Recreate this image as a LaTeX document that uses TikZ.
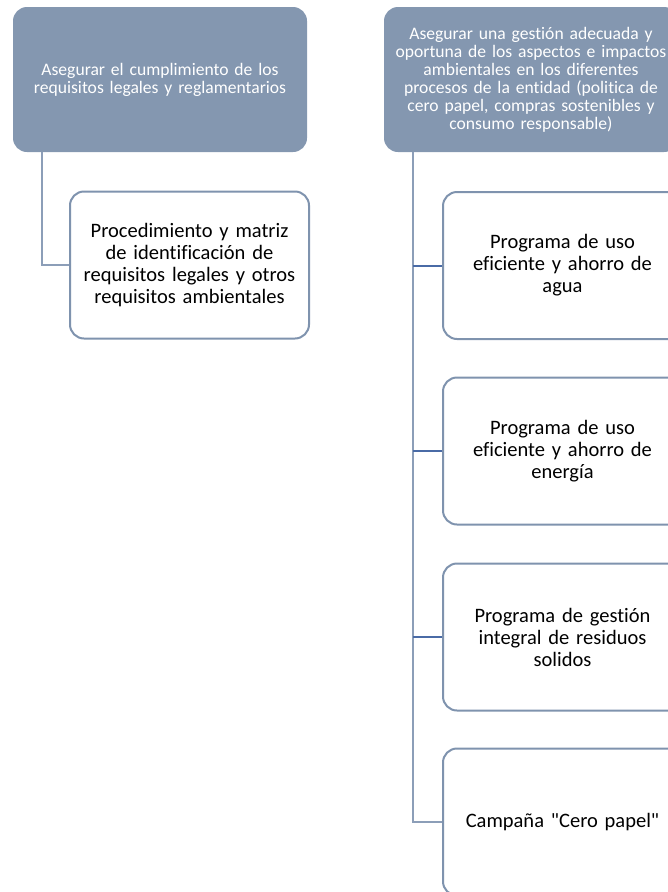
\documentclass[tikz,border=0pt]{standalone}
\usepackage{fontspec}
\setmainfont{Carlito}[Ligatures={TeXOff,NoCommon}]
\definecolor{hdrfill}{HTML}{8497B0}
\definecolor{boxline}{HTML}{7F93AE}
\definecolor{connlight}{HTML}{8C9EB8}
\definecolor{conndark}{HTML}{4A6BA6}
\tikzset{
  hdr/.style={rectangle, rounded corners=14pt, fill=hdrfill, text=white,
    minimum width=294pt, minimum height=145pt, text width=290pt, align=center,
    inner sep=0pt, font=\fontsize{17.6pt}{18pt}\selectfont},
  child/.style={rectangle, rounded corners=14pt, draw=boxline, line width=2pt, fill=white,
    minimum width=239pt, minimum height=147pt, text width=232pt, align=center,
    inner sep=0pt, font=\fontsize{20.5pt}{22pt}\selectfont},
  connl/.style={draw=connlight, line width=2pt},
  connd/.style={draw=conndark, line width=2pt}
}
\begin{document}
\begin{tikzpicture}[x=1pt,y=-1pt]
\useasboundingbox (0,0) rectangle (668,892);
\clip (0,0) rectangle (668,892);
\coordinate (lx) at (42,0);
\coordinate (rx) at (413,0);
\node[hdr] (lh) at (160,79.5) {Asegurar el cumplimiento de los\\requisitos legales y reglamentarios};
\node[hdr] (rh) at (531,79.5) {Asegurar una gestión adecuada y\\oportuna de los aspectos e impactos\\ambientales en los diferentes\\procesos de la entidad (politica de\\cero papel, compras sostenibles y\\consumo responsable)};
\draw[connl] (lh.south -| lx) |- (189.5,265);
\draw[connl] (rh.south -| rx) |- (562.5,822);
\node[child] (lc) at (189.5,265) {Procedimiento y matriz\\de identificación de\\requisitos legales y otros\\requisitos ambientales};
\node[child] (r1) at (562.5,265.5) {Programa de uso\\eficiente y ahorro de\\agua};
\node[child] (r2) at (562.5,451) {Programa de uso\\eficiente y ahorro de\\energía};
\node[child] (r3) at (562.5,637) {Programa de gestión\\integral de residuos\\solidos};
\node[child] (r4) at (562.5,822) {Campaña "Cero papel"};
\draw[connd] (r1.west -| rx) -- (r1.west);
\draw[connd] (r2.west -| rx) -- (r2.west);
\draw[connd] (r3.west -| rx) -- (r3.west);
\end{tikzpicture}
\end{document}
